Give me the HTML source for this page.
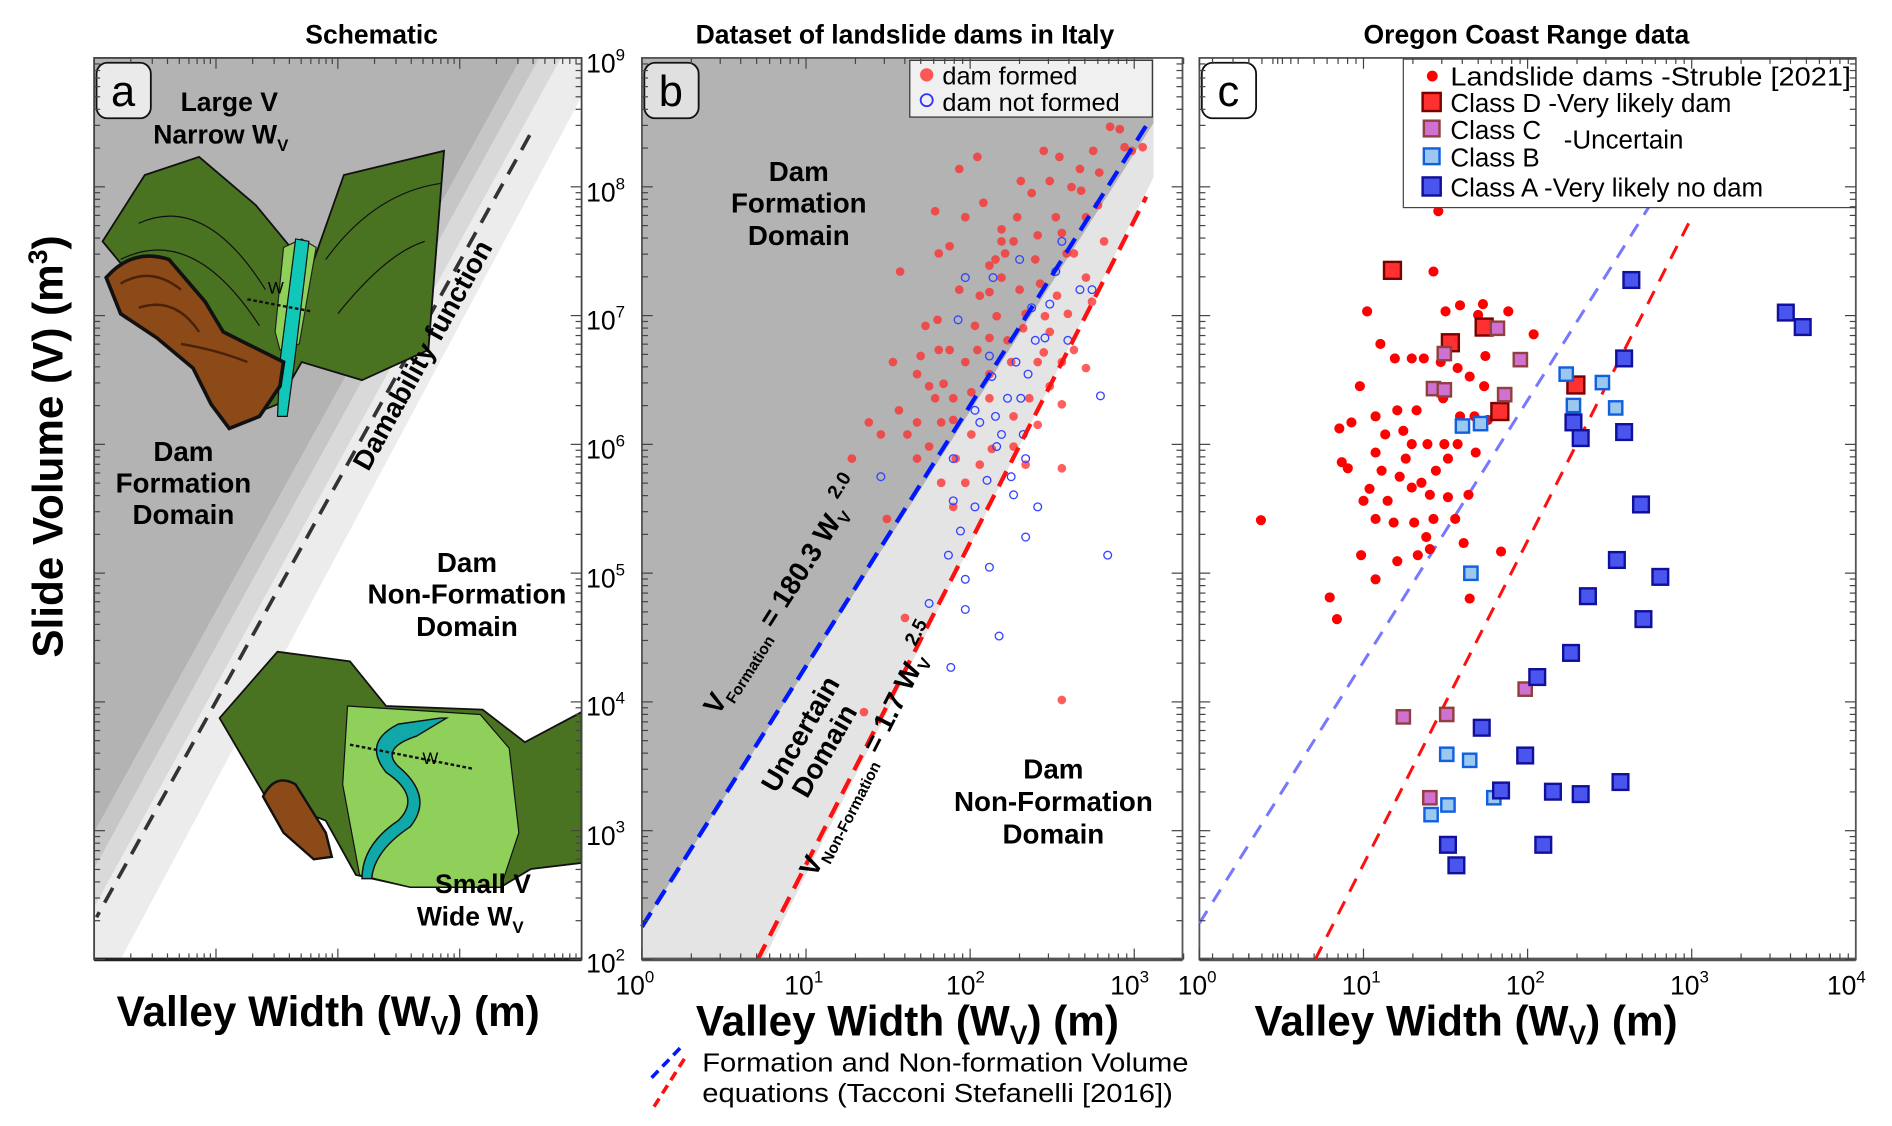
<!DOCTYPE html>
<html><head><meta charset="utf-8"><style>
html,body{margin:0;padding:0;background:#fff}
svg{display:block}
text{font-family:"Liberation Sans",Arial,sans-serif}
</style></head><body>
<svg id="s" width="1892" height="1126" viewBox="0 0 1568 933" preserveAspectRatio="none" xmlns="http://www.w3.org/2000/svg">
<text x="308" y="36" font-size="22" font-weight="bold" text-anchor="middle">Schematic</text>
<text x="750" y="36" font-size="22" font-weight="bold" text-anchor="middle">Dataset of landslide dams in Italy</text>
<text x="1265" y="36" font-size="22" font-weight="bold" text-anchor="middle">Oregon Coast Range data</text>

<!-- Panel a -->
<rect x="78" y="48" width="404" height="747" fill="#fff"/>
<polygon points="78,48 432,48 78,690" fill="#b3b3b3"/>
<polygon points="432,48 447,48 78,720 78,690" fill="#c6c6c6"/>
<polygon points="447,48 465,48 78,752 78,720" fill="#d9d9d9"/>
<polygon points="465,48 482,48 482,80 100,795 78,795 78,752" fill="#ececec"/>
<line x1="439" y1="112" x2="80" y2="760" stroke="#333" stroke-width="3" stroke-dasharray="14,9"/>
<!-- upper valley -->
<path d="M85,200 L120,145 L165,130 L212,170 L245,210 L255,230 L285,145 L368,125 L355,290 L300,315 L250,300 L230,335 L205,345 Z" fill="#4a7321" stroke="#111" stroke-width="1.5"/>
<path d="M115,185 Q170,160 220,240 M100,215 Q160,185 215,270 M270,215 Q310,160 365,152 M280,260 Q320,210 352,200" fill="none" stroke="#111" stroke-width="1"/>
<path d="M235,205 L250,198 L262,205 L248,285 L232,290 L228,275 Z" fill="#8fd05a" stroke="#222" stroke-width="1"/>
<path d="M245,198 L256,200 L244,300 L238,345 L230,345 L232,300 Z" fill="#10c7b8" stroke="#111" stroke-width="1"/>
<path d="M88,230 Q110,205 140,215 L170,250 L185,275 L205,285 L235,300 L232,320 L215,345 L190,355 L175,335 L160,305 L130,280 L100,260 Z" fill="#8b4a17" stroke="#111" stroke-width="3"/>
<path d="M100,235 Q125,220 150,240 M115,255 Q145,245 165,275 M150,285 Q180,290 205,300" fill="none" stroke="#4a2208" stroke-width="2"/>
<line x1="205" y1="248" x2="258" y2="258" stroke="#111" stroke-width="2" stroke-dasharray="3,2"/>
<text x="222" y="243" font-size="14">W</text>
<!-- lower valley -->
<path d="M182,595 L230,540 L290,548 L320,585 L400,588 L435,615 L482,590 L482,715 L440,720 L415,735 L340,735 L295,725 L270,680 L220,660 Z" fill="#4a7321" stroke="#111" stroke-width="1.5"/>
<path d="M288,585 L398,592 L422,620 L430,690 L415,735 L340,735 L298,725 L284,650 Z" fill="#8fd05a" stroke="#111" stroke-width="1"/>
<path d="M330,600 Q300,615 320,640 Q350,660 330,680 Q300,700 300,728 L308,728 Q310,705 340,685 Q360,660 330,635 Q315,620 345,610 L370,595 L365,595 Z" fill="#10a8a8" stroke="#111" stroke-width="1.2"/>
<path d="M218,660 Q228,640 245,650 L270,690 L275,710 L260,712 L235,690 Z" fill="#8b4a17" stroke="#111" stroke-width="2"/>
<line x1="290" y1="617" x2="392" y2="637" stroke="#111" stroke-width="2" stroke-dasharray="3,2"/>
<text x="350" y="633" font-size="14">W</text>
<text x="190" y="92" font-size="22" font-weight="bold" text-anchor="middle">Large V</text>
<text x="183" y="119" font-size="22" font-weight="bold" text-anchor="middle">Narrow W<tspan font-size="14" dy="6">V</tspan></text>
<text x="152" y="382" font-size="23" font-weight="bold" text-anchor="middle">Dam</text>
<text x="152" y="408" font-size="23" font-weight="bold" text-anchor="middle">Formation</text>
<text x="152" y="434" font-size="23" font-weight="bold" text-anchor="middle">Domain</text>
<text transform="translate(357,298) rotate(-61)" font-size="23" font-weight="bold" text-anchor="middle">Damability function</text>
<text x="387" y="474" font-size="23" font-weight="bold" text-anchor="middle">Dam</text>
<text x="387" y="500" font-size="23" font-weight="bold" text-anchor="middle">Non-Formation</text>
<text x="387" y="527" font-size="23" font-weight="bold" text-anchor="middle">Domain</text>
<text x="440" y="740" font-size="22" font-weight="bold" text-anchor="end">Small V</text>
<text x="434" y="767" font-size="22" font-weight="bold" text-anchor="end">Wide W<tspan font-size="14" dy="6">V</tspan></text>
<rect x="78" y="48" width="404" height="747" fill="none" stroke="#444" stroke-width="1.5"/>
<line x1="78" y1="795" x2="482" y2="795" stroke="#222" stroke-width="3"/>

<!-- Panel b -->
<polygon points="532,48 956,48 956,147 633,795 532,795" fill="#e4e4e4"/>
<polygon points="532,48 956,48 956,102 532,768" fill="#b3b3b3"/>
<g id="pb"></g>
<line x1="532" y1="768" x2="950" y2="104" stroke="#0018ff" stroke-width="3.5" stroke-dasharray="14,8"/>
<line x1="628" y1="795" x2="950" y2="163" stroke="#ff1010" stroke-width="3.5" stroke-dasharray="14,8"/>
<text x="662" y="150" font-size="23" font-weight="bold" text-anchor="middle">Dam</text>
<text x="662" y="176" font-size="23" font-weight="bold" text-anchor="middle">Formation</text>
<text x="662" y="203" font-size="23" font-weight="bold" text-anchor="middle">Domain</text>
<text transform="translate(656,498) rotate(-57.5)" font-size="23" font-weight="bold" text-anchor="middle">V<tspan font-size="13" dy="6">Formation</tspan><tspan dy="-6"> = 180.3 W</tspan><tspan font-size="14" dy="5">V</tspan><tspan font-size="16" dy="-18"> 2.0</tspan></text>
<text transform="translate(670,612) rotate(-60)" font-size="23" font-weight="bold" text-anchor="middle">Uncertain</text>
<text transform="translate(690,626) rotate(-60)" font-size="23" font-weight="bold" text-anchor="middle">Domain</text>
<text transform="translate(728,625) rotate(-63)" font-size="23" font-weight="bold" text-anchor="middle">V<tspan font-size="13" dy="6">Non-Formation</tspan><tspan dy="-6"> = 1.7 W</tspan><tspan font-size="14" dy="5">V</tspan><tspan font-size="16" dy="-18"> 2.5</tspan></text>
<text x="873" y="645" font-size="23" font-weight="bold" text-anchor="middle">Dam</text>
<text x="873" y="672" font-size="23" font-weight="bold" text-anchor="middle">Non-Formation</text>
<text x="873" y="699" font-size="23" font-weight="bold" text-anchor="middle">Domain</text>
<rect x="754" y="50" width="201" height="47" fill="#f0f0f0" stroke="#333" stroke-width="1"/>
<circle cx="768" cy="62" r="5.5" fill="#ff3b3b" opacity="0.85"/>
<circle cx="768" cy="83" r="5" fill="none" stroke="#3333ff" stroke-width="1.5"/>
<text x="781" y="70" font-size="21">dam formed</text>
<text x="781" y="92" font-size="21">dam not formed</text>
<rect x="532" y="48" width="448" height="747" fill="none" stroke="#555" stroke-width="1.5"/>
<line x1="532" y1="795" x2="980" y2="795" stroke="#555" stroke-width="3"/>

<!-- Panel c -->
<rect x="994" y="48" width="544" height="747" fill="none" stroke="#555" stroke-width="1.5"/>
<line x1="994" y1="795" x2="1538" y2="795" stroke="#555" stroke-width="3"/>
<line x1="994" y1="765" x2="1380" y2="150" stroke="#7777ff" stroke-width="2.5" stroke-dasharray="12,9"/>
<line x1="1090" y1="795" x2="1402" y2="180" stroke="#ff1010" stroke-width="2.5" stroke-dasharray="12,9"/>
<g id="pc"></g>
<rect x="1163" y="49" width="375" height="123" fill="#fff" stroke="#444" stroke-width="1"/>
<circle cx="1187" cy="63" r="4.5" fill="#f00"/>
<rect x="1179" y="77" width="15" height="15" fill="#ff3030" stroke="#7a0000" stroke-width="2"/>
<rect x="1180" y="100" width="13" height="13" fill="#d070d0" stroke="#904040" stroke-width="2"/>
<rect x="1180" y="123" width="13" height="13" fill="#9cc8f0" stroke="#1060e0" stroke-width="2"/>
<rect x="1179" y="147" width="15" height="15" fill="#4a55f0" stroke="#10109a" stroke-width="2"/>
<g font-size="21.5">
<text x="1202" y="71" textLength="332" lengthAdjust="spacingAndGlyphs">Landslide dams -Struble [2021]</text>
<text x="1202" y="93">Class D -Very likely dam</text>
<text x="1202" y="115">Class C</text>
<text x="1296" y="123">-Uncertain</text>
<text x="1202" y="138">Class B</text>
<text x="1202" y="163">Class A -Very likely no dam</text>
</g>

<rect x="80" y="52" width="45" height="46" rx="9" fill="#eaeaea" stroke="#111" stroke-width="1.5"/>
<text x="102" y="88" font-size="36" text-anchor="middle">a</text>
<rect x="534" y="52" width="45" height="46" rx="9" fill="#e0e0e0" stroke="#111" stroke-width="1.5"/>
<text x="556" y="88" font-size="36" text-anchor="middle">b</text>
<rect x="996" y="52" width="45" height="46" rx="9" fill="#fff" stroke="#111" stroke-width="1.5"/>
<text x="1018" y="88" font-size="36" text-anchor="middle">c</text>

<g id="ticks"></g>
<g font-size="22" text-anchor="end">
<text x="518" y="60">10<tspan font-size="14" dy="-10">9</tspan></text>
<text x="518" y="167">10<tspan font-size="14" dy="-10">8</tspan></text>
<text x="518" y="273">10<tspan font-size="14" dy="-10">7</tspan></text>
<text x="518" y="380">10<tspan font-size="14" dy="-10">6</tspan></text>
<text x="518" y="487">10<tspan font-size="14" dy="-10">5</tspan></text>
<text x="518" y="593">10<tspan font-size="14" dy="-10">4</tspan></text>
<text x="518" y="700">10<tspan font-size="14" dy="-10">3</tspan></text>
<text x="518" y="806">10<tspan font-size="14" dy="-10">2</tspan></text>
</g>
<g font-size="22">
<text x="510" y="824">10<tspan font-size="14" dy="-10">0</tspan></text>
<text x="650" y="824">10<tspan font-size="14" dy="-10">1</tspan></text>
<text x="784" y="824">10<tspan font-size="14" dy="-10">2</tspan></text>
<text x="920" y="824">10<tspan font-size="14" dy="-10">3</tspan></text>
<text x="976" y="824">10<tspan font-size="14" dy="-10">0</tspan></text>
<text x="1112" y="824">10<tspan font-size="14" dy="-10">1</tspan></text>
<text x="1248" y="824">10<tspan font-size="14" dy="-10">2</tspan></text>
<text x="1384" y="824">10<tspan font-size="14" dy="-10">3</tspan></text>
<text x="1514" y="824">10<tspan font-size="14" dy="-10">4</tspan></text>
</g>
<g font-size="35" font-weight="bold" text-anchor="middle">
<text x="272" y="850">Valley Width (W<tspan font-size="22" dy="7">V</tspan><tspan dy="-7">) (m)</tspan></text>
<text x="752" y="858">Valley Width (W<tspan font-size="22" dy="7">V</tspan><tspan dy="-7">) (m)</tspan></text>
<text x="1215" y="858">Valley Width (W<tspan font-size="22" dy="7">V</tspan><tspan dy="-7">) (m)</tspan></text>
</g>
<text transform="translate(52,370) rotate(-90)" font-size="35" font-weight="bold" text-anchor="middle">Slide Volume (V) (m<tspan font-size="22" dy="-13">3</tspan><tspan dy="13">)</tspan></text>
<line x1="540" y1="893" x2="566" y2="866" stroke="#0018ff" stroke-width="3" stroke-dasharray="8,5"/>
<line x1="542" y1="917" x2="568" y2="876" stroke="#ff1010" stroke-width="3" stroke-dasharray="8,5"/>
<text x="582" y="888" font-size="21.5" textLength="403" lengthAdjust="spacingAndGlyphs">Formation and Non-formation Volume</text>
<text x="582" y="913" font-size="21.5" textLength="390" lengthAdjust="spacingAndGlyphs">equations (Tacconi Stefanelli [2016])</text>
</svg>
<script>
var NS="http://www.w3.org/2000/svg";
function el(p,t,a){var e=document.createElementNS(NS,t);for(var k in a)e.setAttribute(k,a[k]);document.getElementById(p).appendChild(e);return e;}
var rb=[[706,380],[720,350],[746,225],[763,295],[767,270],[777,265],[778,290],[782,318],[787,290],[790,348],[792,380],[800,400],[805,325],[810,130],[815,168],[820,310],[820,280],[820,242],[825,215],[830,200],[835,282],[838,300],[840,345],[843,180],[846,150],[850,260],[853,330],[858,215],[862,235],[865,292],[870,275],[876,245],[880,193],[884,210],[888,155],[896,158],[900,180],[906,125],[911,143],[915,200],[920,105],[928,107],[932,122],[938,125],[947,122],[760,310],[775,330],[800,300],[812,245],[795,240],[830,230],[845,240],[860,195],[875,180],[885,260],[900,230],[905,250],[770,370],[780,400],[790,420],[812,385],[840,370],[850,385],[880,388],[870,320],[890,290],[860,300],[760,380],[740,300],[735,430],[716,590],[750,512],[880,580],[778,210],[787,204],[820,220],[752,360],[760,350],[770,320],[790,330],[810,290],[840,200],[855,160],[870,150],[895,140],[880,300],[878,130],[865,125],[830,190],[800,180],[795,140],[775,175],[730,360],[745,340],[820,330],[833,210],[808,270],[826,262],[848,272],[866,262],[780,350],[805,360],[822,372],[860,352],[880,335],[900,305],[890,210],[910,170]];
rb.forEach(function(p){el("pb","circle",{cx:p[0],cy:p[1],r:3.6,fill:"#ff2a2a","fill-opacity":0.75});});
var bb=[[730,395],[786,460],[790,380],[794,265],[800,230],[808,340],[812,350],[820,295],[822,312],[825,345],[830,360],[835,330],[838,395],[842,300],[846,330],[850,380],[852,310],[858,282],[866,280],[870,252],[875,225],[880,200],[885,282],[895,240],[905,240],[912,328],[918,460],[796,440],[808,420],[818,398],[826,370],[840,410],[850,445],[860,420],[770,500],[800,480],[820,470],[828,527],[848,360],[855,255],[800,505],[788,553],[790,415],[845,215],[823,230]];
bb.forEach(function(p){el("pb","circle",{cx:p[0],cy:p[1],r:3.2,fill:"none",stroke:"#3344ff","stroke-width":1.1});});
var rc=[[1045,431],[1102,495],[1108,513],[1192,175],[1133,258],[1188,225],[1144,285],[1210,253],[1225,261],[1198,258],[1127,320],[1174,340],[1156,297],[1170,297],[1180,297],[1194,300],[1208,305],[1218,312],[1230,320],[1110,355],[1120,350],[1140,345],[1158,340],[1170,368],[1183,368],[1197,368],[1208,368],[1223,375],[1140,375],[1145,390],[1160,395],[1135,405],[1150,415],[1170,404],[1185,410],[1200,412],[1217,410],[1130,415],[1155,433],[1172,433],[1188,430],[1206,430],[1140,430],[1128,460],[1182,445],[1175,460],[1213,450],[1158,465],[1140,480],[1218,496],[1185,455],[1244,457],[1271,277],[1250,258],[1229,252],[1231,295],[1117,388],[1112,383],[1148,360],[1163,357],[1196,330],[1210,345],[1222,345],[1233,348],[1200,380],[1190,390],[1178,400],[1165,380]];
rc.forEach(function(p){el("pc","circle",{cx:p[0],cy:p[1],r:4.2,fill:"#f00"});});
function sq(list,f,s,w){list.forEach(function(p){el("pc","rect",{x:p[0]-w/2,y:p[1]-w/2,width:w,height:w,fill:f,stroke:s,"stroke-width":2});});}
sq([[1154,224],[1202,284],[1230,271],[1306,319],[1243,341]],"#ff3030","#7a0000",14);
sq([[1197,293],[1188,322],[1197,323],[1241,272],[1260,298],[1247,327],[1163,594],[1199,592],[1264,571],[1185,661]],"#d070d0","#904040",11);
sq([[1212,353],[1227,351],[1298,310],[1304,336],[1328,317],[1339,338],[1219,475],[1199,625],[1218,630],[1238,661],[1200,667],[1186,675]],"#9cc8f0","#1060e0",11);
sq([[1352,232],[1346,297],[1304,350],[1310,363],[1346,358],[1480,259],[1494,271],[1360,418],[1340,464],[1376,478],[1316,494],[1362,513],[1302,541],[1274,561],[1228,603],[1264,626],[1244,655],[1287,656],[1310,658],[1343,648],[1200,700],[1207,717],[1279,700]],"#4a55f0","#10109a",13);
var dy=106.7;
function yt(x,dir){for(var d=2;d<9;d++){for(var m=1;m<10;m++){var y=795-(d-2+Math.log10(m))*dy;var L=m==1?9:5;el("ticks","line",{x1:x,y1:y,x2:x+dir*L,y2:y,stroke:"#444","stroke-width":1});}}}
function xt(x0,n,y,dir,s){s=s||136;for(var d=0;d<n;d++){for(var m=1;m<10;m++){var x=x0+(d+Math.log10(m))*s;if(x>x0+n*s)continue;var L=m==1?9:5;el("ticks","line",{x1:x,y1:y,x2:x,y2:y+dir*L,stroke:"#444","stroke-width":1});}}}
yt(78,1);yt(482,-1);yt(532,1);yt(980,-1);yt(994,1);yt(1538,-1);
xt(78,4,795,-1,101);xt(78,4,48,1,101);xt(532,4,795,-1);xt(532,4,48,1);xt(994,4,795,-1);xt(994,4,48,1);
</script>
</body></html>
